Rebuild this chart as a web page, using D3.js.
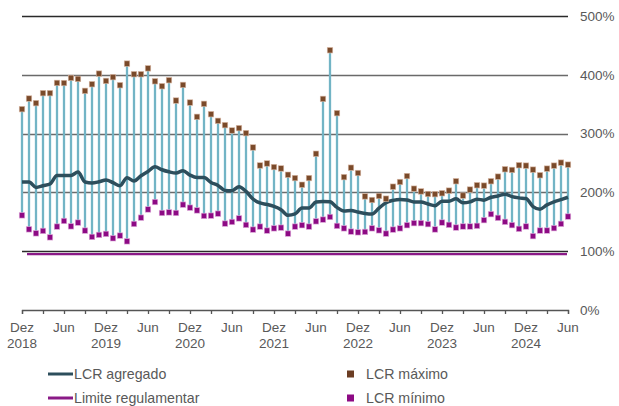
<!DOCTYPE html>
<html><head><meta charset="utf-8">
<script src="https://cdn.jsdelivr.net/npm/d3@7"></script>
<style>body{margin:0;background:#fff;}svg{display:block;font-family:"Liberation Sans",Arial,sans-serif;}</style>
</head><body><svg id="c" width="619" height="406"></svg>
<script>
// Monthly observations Dez 2018 .. Jun 2025 (79 months)
const months = d3.timeMonth.range(new Date(2018, 11, 1), new Date(2025, 6, 1));
const lcrMax = [341.6,359.6,351.8,368.8,368.8,386.2,386,394.7,393,372.7,384,402,389.6,396,382.3,419,401,401,411,389,
  380.6,390.8,356.2,382.8,352.8,328.5,350.6,333,321.7,314.4,305.3,309.3,300.8,276.4,245.8,249.2,243.1,240.7,230,224.4,
  213,224.4,265.7,359,441.8,334.8,226,242,233,193.2,187.1,193.9,189.3,209.7,217.7,227.8,206.3,201.7,197.3,197,
  198.6,203,219,194.6,204.8,212.2,211.5,219,226.8,239.4,238.2,246.2,245.5,238.7,229.2,240.4,245.5,250.6,247.2];
const lcrMin = [161,137.2,130.4,134.5,123.6,141.8,151.4,142.3,148.6,135,124.3,127.7,129.4,122,126.5,116.8,146.3,157,171,183.6,
  165,166,165,179.1,174,169.4,160,160.4,163.8,146.9,149.7,155.8,144.7,136.7,141.8,135,138.9,140,129.9,141.8,
  144.2,141.8,150.8,153.7,158.2,143,138.9,133.3,132.1,132.8,138.9,135.5,129.9,136.7,138.9,144.2,147.7,147.7,146,137,
  148.7,144.8,140.2,142,142,143.1,152.8,163,156.7,149.9,144.3,138,142,125.6,135.1,135.1,139.2,146.5,158.9];
const lcrAgregado = [217.7,217.7,208.5,211.4,214.3,228.9,228.9,228.9,234.6,217.7,216,218,221,216.5,211.4,225,219.4,228.4,235.7,243.6,
  238.5,235,232.9,236.8,229.5,225.5,225.5,217,211.9,203.4,202.9,209.7,201.7,188.8,182,179.6,176.2,170.6,161,163.3,
  173.3,173.3,183.7,184.7,184,174.5,168.4,169.4,166.6,164.3,163.3,173.3,182.5,186.4,188.1,187.1,183.7,183.7,180.3,177.5,
  185,185,189,182.2,183.9,188.5,186.8,191.8,194,197,192.9,190.7,189.5,175.9,171.5,178.8,183.9,187.8,191.8];
const limiteRegulamentar = 95;
const yTicks = [0,100,200,300,400,500];
const xTickLabels = ["Dez|2018","Jun","Dez|2019","Jun","Dez|2020","Jun","Dez|2021","Jun","Dez|2022","Jun","Dez|2023","Jun","Dez|2024","Jun"];
const legendItems = [
  {name:"LCR agregado", type:"line", color:"#2d4e5c"},
  {name:"Limite regulamentar", type:"line", color:"#8a1a87"},
  {name:"LCR máximo", type:"square", color:"#6b3d23"},
  {name:"LCR mínimo", type:"square", color:"#8d0a84"}
];

const svg = d3.select("#c");
const x = d3.scaleLinear().domain([0, months.length-1]).range([22, 568]);
const y = d3.scaleLinear().domain([0, 500]).range([310, 16]);
const idx = d3.range(months.length);

// gridlines
svg.append("g").selectAll("line").data(yTicks.filter(d=>d>0)).join("line")
  .attr("x1", x(0)).attr("x2", x(months.length-1))
  .attr("y1", d=>Math.round(y(d))+0.5).attr("y2", d=>Math.round(y(d))+0.5)
  .attr("stroke", d=> (d===100||d===500) ? "#2a2a2a" : "#6a6a6a").attr("stroke-width", 1.3);

// y labels (right)
svg.append("g").selectAll("text").data(yTicks).join("text")
  .attr("x", 580).attr("y", d=>y(d)).attr("dy","0.35em")
  .attr("fill","#595959").attr("font-size",13.5).text(d=>d+"%");

// x axis
const xAxis = d3.axisBottom(x).tickValues(d3.range(0, months.length, 3)).tickSize(4).tickFormat("");
const gx = svg.append("g").attr("transform","translate(0,310)").call(xAxis);
gx.select(".domain").attr("stroke","#555").attr("stroke-width",1.3);
gx.selectAll(".tick line").attr("stroke","#555").attr("stroke-width",1.3);
const lbl = svg.append("g").selectAll("text").data(xTickLabels).join("text")
  .attr("x",(d,i)=>x(i*6)).attr("y",332).attr("text-anchor","middle")
  .attr("fill","#595959").attr("font-size",13.5);
lbl.each(function(d){
  const parts = d.split("|");
  const t = d3.select(this);
  parts.forEach((p,j)=>t.append("tspan").attr("x", t.attr("x")).attr("dy", j===0?0:16).text(p));
});

// limit line
svg.append("line").attr("x1", x(0)+5).attr("x2", x(months.length-1)-1)
  .attr("y1", y(limiteRegulamentar)).attr("y2", y(limiteRegulamentar))
  .attr("stroke","#8a1a87").attr("stroke-width",2.2);

// stems
svg.append("g").selectAll("line").data(idx).join("line")
  .attr("x1", i=>x(i)).attr("x2", i=>x(i))
  .attr("y1", i=>y(lcrMin[i])).attr("y2", i=>y(lcrMax[i]))
  .attr("stroke","#72b4c5").attr("stroke-width",2.3);

// aggregate line
svg.append("path").datum(idx)
  .attr("d", d3.line().x(i=>x(i)).y(i=>y(lcrAgregado[i])).curve(d3.curveMonotoneX))
  .attr("fill","none").attr("stroke","#2d4e5c").attr("stroke-width",3.5);

// markers
const ms = 5.5;
svg.append("g").selectAll("rect").data(idx).join("rect")
  .attr("x", i=>x(i)-ms/2).attr("y", i=>y(lcrMax[i])-ms/2).attr("width",ms).attr("height",ms)
  .attr("fill","#7a4a2a").attr("stroke","#d9b9a6").attr("stroke-width",0.6);
svg.append("g").selectAll("rect").data(idx).join("rect")
  .attr("x", i=>x(i)-ms/2).attr("y", i=>y(lcrMin[i])-ms/2).attr("width",ms).attr("height",ms)
  .attr("fill","#8d0a84").attr("stroke","#e0b0dc").attr("stroke-width",0.6);

// legend
const legPos = [[48,374],[48,398],[347,374],[347,398]];
legendItems.forEach((it,k)=>{
  const [lx,ly] = legPos[k];
  if (it.type==="line") {
    svg.append("line").attr("x1",lx).attr("x2",lx+25).attr("y1",ly).attr("y2",ly)
      .attr("stroke",it.color).attr("stroke-width",3);
    svg.append("text").attr("x",lx+26).attr("y",ly).attr("dy","0.35em")
      .attr("fill","#595959").attr("font-size",14.2).text(it.name);
  } else {
    svg.append("rect").attr("x",lx).attr("y",ly-3.5).attr("width",7).attr("height",7).attr("fill",it.color);
    svg.append("text").attr("x",lx+19).attr("y",ly).attr("dy","0.35em")
      .attr("fill","#595959").attr("font-size",14.2).text(it.name);
  }
});
</script></body></html>
